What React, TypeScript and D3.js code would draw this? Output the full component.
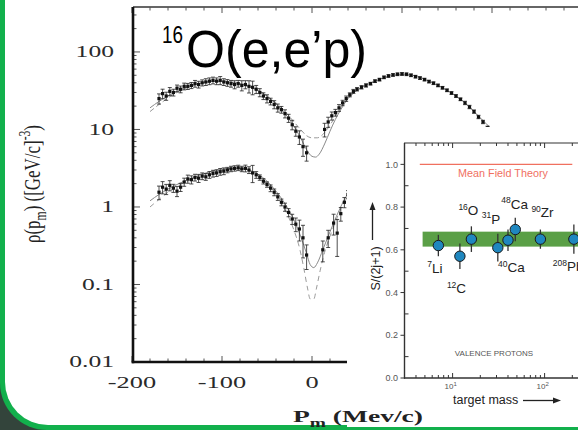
import React from "react";
import * as d3 from "d3";

// ---------------- main panel: 16O(e,e'p) momentum distributions ----------------
// upper distribution: missing momentum (MeV/c), rho, relative error
const upperPm = [-170, -166, -162, -158, -154, -150, -146, -142, -138, -134, -130, -126, -122, -118, -114, -110, -106, -102, -98, -94, -90, -86, -82, -78, -74, -70, -66, -62, -58, -54, -50, -46, -42, -38, -34, -30, -26, -22, -18, -14, -10, -6,
  14, 18, 22, 26, 30, 34, 38, 42, 46, 50, 55, 60, 65, 70, 75, 80, 85, 90, 95, 100, 105, 110, 115, 120, 125, 130, 135, 140, 145, 150, 155, 160, 165, 170, 175, 180, 185, 190, 195];
const upperRho = [25, 29, 27, 31, 30, 34, 33, 36, 36, 37, 39, 38, 40, 41, 42, 43, 42, 43, 41, 40, 39, 38, 39, 37, 38, 36, 35, 33, 30, 27, 25, 23, 21, 19, 18, 16, 14, 11.5, 9.5, 8, 6, 5,
  10, 12.5, 15, 16.5, 19, 22, 25, 28, 31, 33, 35, 37, 39, 42, 44, 47, 49, 50.5, 51.5, 52, 51.5, 50, 48, 46, 44, 41.5, 39.5, 37, 34.5, 32, 29.5, 27, 24.5, 22, 19.5, 17, 14.5, 12.5, 10.5];
const upperErr = [0.15, 0.14, 0.12, 0.12, 0.1, 0.1, 0.1, 0.1, 0.09, 0.09, 0.1, 0.1, 0.09, 0.1, 0.1, 0.1, 0.1, 0.12, 0.1, 0.1, 0.1, 0.12, 0.1, 0.15, 0.12, 0.18, 0.2, 0.12, 0.12, 0.1, 0.12, 0.1, 0.12, 0.12, 0.1, 0.12, 0.12, 0.14, 0.14, 0.2, 0.25, 0.22,
  0.2, 0.15, 0.12, 0.1, 0.1, 0.08, 0.08, 0.06, 0.06, 0.05, 0.05, 0.05, 0.04, 0.04, 0.04, 0.04, 0.04, 0.04, 0.04, 0.04, 0.04, 0.04, 0.04, 0.04, 0.04, 0.04, 0.04, 0.04, 0.04, 0.04, 0.04, 0.04, 0.04, 0.05, 0.05, 0.05, 0.05, 0.05, 0.05];

// lower distribution
const lowerPm = [-170, -166, -162, -158, -154, -150, -146, -142, -138, -134, -130, -126, -122, -118, -114, -110, -106, -102, -98, -94, -90, -86, -82, -78, -74, -70, -66, -62, -58, -54, -50, -46, -42, -38, -34, -30, -26, -22, -18, -14, -10, -6,
  12, 18, 24, 28, 32, 36, 40];
const lowerRho = [1.55, 1.8, 1.7, 1.9, 1.75, 1.6, 1.8, 2.1, 2.3, 2.25, 2.4, 2.35, 2.5, 2.45, 2.6, 2.7, 2.75, 2.85, 2.9, 3.0, 3.1, 3.15, 3.2, 3.1, 3.15, 3.0, 2.75, 2.6, 2.4, 2.15, 1.95, 1.75, 1.55, 1.35, 1.15, 1.0, 0.85, 0.7, 0.6, 0.52, 0.4, 0.24,
  0.28, 0.4, 0.62, 0.46, 0.82, 1.15, 1.45];
const lowerErr = [0.2, 0.18, 0.15, 0.15, 0.12, 0.15, 0.12, 0.12, 0.12, 0.12, 0.1, 0.12, 0.1, 0.1, 0.1, 0.1, 0.1, 0.1, 0.1, 0.08, 0.08, 0.08, 0.08, 0.08, 0.1, 0.1, 0.25, 0.1, 0.08, 0.08, 0.08, 0.1, 0.1, 0.1, 0.1, 0.12, 0.12, 0.15, 0.2, 0.3, 0.45, 0.35,
  0.3, 0.25, 0.3, 0.5, 0.2, 0.15, 0.12];

// theory curves
const upperSolidPm = [-180, -170, -160, -150, -140, -130, -120, -110, -100, -90, -80, -70, -60, -50, -40, -30, -20, -12, -6, 0, 4, 8, 14, 20, 26, 32, 40, 50, 60, 70, 80, 90, 100, 110, 120, 130, 140, 150, 160, 170, 180, 190, 200];
const upperSolidRho = [19, 23, 27, 31, 35, 38, 40.5, 42, 42, 41, 39, 36, 32, 27, 21.5, 16, 11, 7.5, 5.5, 4.5, 4.4, 4.8, 6.5, 9.5, 13.5, 18, 25, 32, 37.5, 42, 46.5, 50, 51.5, 50.5, 47, 42, 37, 32, 27, 22, 17, 13, 10];
const upperDashPm = [-180, -170, -160, -150, -140, -130, -120, -110, -100, -90, -80, -70, -60, -50, -40, -30, -20, -12, -6, 0, 6, 12, 18, 24, 30, 40, 50, 60, 70, 80, 90, 100, 110, 120, 130, 140, 150, 160, 170, 180, 190, 200];
const upperDashRho = [17, 21, 25.5, 30, 34, 37.5, 40, 41.5, 41.5, 40.5, 38.5, 35.5, 31.5, 27, 22, 17, 12.5, 9.8, 8.3, 7.8, 7.8, 8.6, 10.5, 13.5, 17.5, 25, 32, 37.5, 42, 46.5, 50, 51.5, 50.5, 47, 42, 37, 32, 27, 22, 17, 13, 10];
const lowerSolidPm = [-180, -170, -160, -150, -140, -130, -120, -110, -100, -90, -80, -70, -60, -50, -40, -30, -20, -12, -6, -2, 2, 6, 12, 18, 24, 30, 36, 42, 50];
const lowerSolidRho = [1.2, 1.45, 1.7, 1.95, 2.2, 2.45, 2.7, 2.9, 3.05, 3.15, 3.15, 3.0, 2.65, 2.15, 1.6, 1.1, 0.68, 0.4, 0.25, 0.18, 0.165, 0.19, 0.28, 0.42, 0.62, 0.9, 1.25, 1.6, 2.0];
const lowerDashPm = [-180, -170, -160, -150, -140, -130, -120, -110, -100, -90, -80, -70, -60, -50, -40, -30, -20, -14, -9, -5, -2, 2, 5, 9, 14, 20, 26, 32, 38, 46];
const lowerDashRho = [1.0, 1.25, 1.55, 1.85, 2.1, 2.4, 2.65, 2.85, 3.0, 3.1, 3.1, 2.9, 2.55, 2.0, 1.45, 0.92, 0.5, 0.3, 0.16, 0.09, 0.065, 0.065, 0.09, 0.15, 0.26, 0.42, 0.64, 0.95, 1.3, 1.75];

const mainYTicks = [0.01, 0.1, 1, 10, 100];
const mainYTickLabels = ["0.01", "0.1", "1", "10", "100"];
const mainXTicks = [-200, -100, 0];
const mainXTickLabels = ["-200", "-100", "0"];

// ---------------- inset: spectroscopic factors ----------------
const nucleusMass = [7, 12, 16, 31, 40, 48, 90, 208];
const nucleusA = ["7", "12", "16", "31", "40", "48", "90", "208"];
const nucleusSymbol = ["Li", "C", "O", "P", "Ca", "Ca", "Zr", "Pb"];
const spectroS = [0.62, 0.57, 0.65, 0.61, 0.645, 0.695, 0.65, 0.65];
const spectroErr = [0.05, 0.06, 0.06, 0.065, 0.05, 0.055, 0.045, 0.068];
const bandLow = 0.615;
const bandHigh = 0.685;
const meanFieldValue = 1.0;
const meanFieldMass = [4.4, 200];
const insetYTicks = [0, 0.2, 0.4, 0.6, 0.8, 1.0];
const insetYMinor = [0.1, 0.3, 0.5, 0.7, 0.9];

// label placement (pixels, relative to each point)
const labelDx = [-11, -13, -13, -16, -10, -14, -9, -21];
const labelDy = [27, 37, -24, -24, 32, -21, -22, 32];

const SERIF = "'Liberation Serif', 'Times New Roman', serif";
const SANS = "'Liberation Sans', Arial, sans-serif";

export default function App() {
  const xM = d3.scaleLinear().domain([-200, 300]).range([132, 582]);
  const yM = d3.scaleLog().domain([0.01, 380]).range([362, 7]);
  const xI = d3.scaleLog().domain([3, 300]).range([404.5, 588.5]);
  const yI = d3.scaleLinear().domain([0, 1.1]).range([378, 143]);

  const axL = 133, axB = 362, axT = 7, axR = 578;

  const pathOf = (pm: number[], rho: number[]) =>
    d3
      .line<number>()
      .x((d) => xM(d))
      .y((_, i) => yM(rho[i]))
      .curve(d3.curveMonotoneX)(pm) || "";

  const dataMarks = (pm: number[], rho: number[], err: number[], key: string) =>
    pm.map((p, i) => {
      const cx = xM(p);
      const r = rho[i];
      const y0 = yM(r * (1 - err[i]));
      const y1 = yM(r * (1 + err[i]));
      const cy = yM(r);
      return (
        <g key={key + i}>
          <line x1={cx} x2={cx} y1={y0} y2={y1} />
          <line x1={cx - 2} x2={cx + 2} y1={y0} y2={y0} />
          <line x1={cx - 2} x2={cx + 2} y1={y1} y2={y1} />
          <rect x={cx - 1.6} y={cy - 1.6} width={3.2} height={3.2} fill="#111" stroke="none" />
        </g>
      );
    });

  const xTicks = d3.range(-200, 301, 20);
  const yMinor: number[] = [];
  mainYTicks.forEach((d) => {
    for (let k = 2; k <= 9; k++) if (k * d <= 380) yMinor.push(k * d);
  });

  const insetXTicks: number[] = [];
  [1, 10, 100].forEach((d) => {
    for (let k = 1; k <= 9; k++) {
      const v = k * d;
      if (v >= 3 && v <= 300) insetXTicks.push(v);
    }
  });

  return (
    <svg
      width={578}
      height={430}
      viewBox="0 0 578 430"
      style={{ position: "absolute", left: 0, top: 0, display: "block" }}
    >
      <defs>
        <clipPath id="plotClip">
          <rect x={axL} y={axT} width={axR - axL} height={axB - axT} />
        </clipPath>
      </defs>
      {/* slide background / border */}
      <rect x={0} y={0} width={578} height={430} fill="#33443b" />
      <rect x={0} y={-100} width={800} height={530} rx={47} fill="#12b04c" />
      <rect x={5} y={-100} width={800} height={525} rx={43} fill="#ffffff" />

      {/* theory curves & data */}
      <g clipPath="url(#plotClip)">
        <path d={pathOf(upperSolidPm, upperSolidRho)} fill="none" stroke="#8a8a8a" strokeWidth={1} />
        <path d={pathOf(upperDashPm, upperDashRho)} fill="none" stroke="#9a9a9a" strokeWidth={1} strokeDasharray="5,3" />
        <path d={pathOf(lowerSolidPm, lowerSolidRho)} fill="none" stroke="#8a8a8a" strokeWidth={1} />
        <path d={pathOf(lowerDashPm, lowerDashRho)} fill="none" stroke="#9a9a9a" strokeWidth={1} strokeDasharray="5,4" />
        <g stroke="#222" strokeWidth={0.8}>
          {dataMarks(upperPm, upperRho, upperErr, "u")}
          {dataMarks(lowerPm, lowerRho, lowerErr, "l")}
        </g>
      </g>

      {/* main frame */}
      <line x1={axL} x2={axR} y1={axT} y2={axT} stroke="#333" strokeWidth={1.5} />
      <g stroke="#555" strokeWidth={1}>
        {xTicks.map((t) => {
          const len = t % 100 === 0 ? 6 : 3.5;
          return (
            <g key={"xt" + t}>
              <line x1={xM(t)} x2={xM(t)} y1={axB} y2={axB - len} />
              <line x1={xM(t)} x2={xM(t)} y1={axT} y2={axT + len} />
            </g>
          );
        })}
        {mainYTicks.map((t) => (
          <line key={"ym" + t} x1={axL} x2={axL + 7} y1={yM(t)} y2={yM(t)} />
        ))}
        {yMinor.map((t) => (
          <line key={"yn" + t} x1={axL} x2={axL + 3.5} y1={yM(t)} y2={yM(t)} />
        ))}
      </g>
      <line x1={axL} x2={axL} y1={axT} y2={axB + 1.3} stroke="#111" strokeWidth={2.6} />
      <line x1={axL - 1.3} x2={axR} y1={axB} y2={axB} stroke="#111" strokeWidth={2.6} />

      {/* main tick labels */}
      <g fontFamily={SERIF} fontSize={16} fill="#2a2a2a">
        {mainYTicks.map((t, i) => (
          <text key={"yl" + t} transform={`translate(114, ${yM(t) + 5.3}) scale(1.6, 1)`} textAnchor="end">
            {mainYTickLabels[i]}
          </text>
        ))}
        {mainXTicks.map((t, i) => (
          <text key={"xl" + t} transform={`translate(${xM(t)}, 388) scale(1.65, 1)`} textAnchor="middle">
            {mainXTickLabels[i]}
          </text>
        ))}
      </g>

      {/* main y label */}
      <text
        transform="translate(40, 243) rotate(-90) scale(1, 1.45)"
        fontFamily={SERIF}
        fontSize={16}
        fill="#222"
        textLength={118}
        lengthAdjust="spacingAndGlyphs"
      >
        ρ(p<tspan fontSize={11} dy={4}>m</tspan>
        <tspan dy={-4}>) ([GeV/c]</tspan>
        <tspan fontSize={11} dy={-7}>-3</tspan>
        <tspan dy={7}>)</tspan>
      </text>

      {/* title */}
      <text x={162} y={43} fontFamily={SANS} fontSize={24} fill="#000" textLength={21} lengthAdjust="spacingAndGlyphs">16</text>
      <text x={186} y={67} fontFamily={SANS} fontSize={52} fill="#000" textLength={181} lengthAdjust="spacingAndGlyphs">
        O(e,e’p)
      </text>

      {/* ---------------- inset ---------------- */}
      <rect x={347} y={127} width={240} height={300} fill="#ffffff" />
      <rect
        x={xI(4.72)}
        y={yI(bandHigh)}
        width={600 - xI(4.72)}
        height={yI(bandLow) - yI(bandHigh)}
        fill="#5a9f46"
      />
      <line
        x1={xI(meanFieldMass[0])}
        x2={xI(meanFieldMass[1])}
        y1={yI(meanFieldValue)}
        y2={yI(meanFieldValue)}
        stroke="#f0705f"
        strokeWidth={1.2}
      />
      <text x={503} y={177} textAnchor="middle" fontFamily={SANS} fontSize={10.8} fill="#f0705f">
        Mean Field Theory
      </text>

      {/* inset axes */}
      <g stroke="#333" strokeWidth={1}>
        {insetYTicks.map((t) => (
          <line key={"iy" + t} x1={400.5} x2={404.5} y1={yI(t)} y2={yI(t)} />
        ))}
        {insetYMinor.map((t) => (
          <line key={"iym" + t} x1={404.5} x2={408.5} y1={yI(t)} y2={yI(t)} />
        ))}
        {insetXTicks.map((t) => {
          const major = t === 10 || t === 100;
          const len = major ? 5 : 3;
          return (
            <g key={"ix" + t}>
              <line x1={xI(t)} x2={xI(t)} y1={378} y2={378 - len} />
              <line x1={xI(t)} x2={xI(t)} y1={143} y2={143 + len} />
            </g>
          );
        })}
      </g>
      <line x1={404.5} x2={404.5} y1={143} y2={378.7} stroke="#333" strokeWidth={1.4} />
      <line x1={404} x2={578} y1={378} y2={378} stroke="#333" strokeWidth={1.4} />
      <line x1={404} x2={578} y1={143} y2={143} stroke="#333" strokeWidth={1.2} />

      <g fontFamily={SANS} fontSize={9} fill="#555">
        {insetYTicks.map((t) => (
          <text key={"iyl" + t} x={398} y={yI(t) + 3.2} textAnchor="end">
            {d3.format(".1f")(t)}
          </text>
        ))}
      </g>
      <g fontFamily={SANS} fontSize={8} fill="#555">
        {[10, 100].map((t, i) => (
          <text key={"ixl" + t} x={xI(t) - 8} y={389}>
            10<tspan fontSize={6} dy={-3.5}>{i + 1}</tspan>
          </text>
        ))}
      </g>

      {/* spectroscopic factors */}
      {nucleusMass.map((m, i) => {
        const cx = xI(m);
        const cy = yI(spectroS[i]);
        return (
          <g key={"pt" + i}>
            <line
              x1={cx}
              x2={cx}
              y1={yI(spectroS[i] - spectroErr[i])}
              y2={yI(spectroS[i] + spectroErr[i])}
              stroke="#333"
              strokeWidth={1.3}
            />
            <circle cx={cx} cy={cy} r={5.2} fill="#1f87bf" stroke="#1a1a1a" strokeWidth={1} />
          </g>
        );
      })}
      <g fontFamily={SANS} fill="#222">
        {nucleusMass.map((m, i) => (
          <text key={"lab" + i} x={xI(m) + labelDx[i]} y={yI(spectroS[i]) + labelDy[i]} fontSize={13.5}>
            <tspan fontSize={8.5} dy={-5.5}>{nucleusA[i]}</tspan>
            <tspan dy={5.5}>{nucleusSymbol[i]}</tspan>
          </text>
        ))}
      </g>

      <text x={494} y={356} textAnchor="middle" fontFamily={SANS} fontSize={8} fill="#555">
        VALENCE PROTONS
      </text>

      {/* inset axis titles */}
      <text transform="translate(380, 268.5) rotate(-90)" textAnchor="middle" fontFamily={SANS} fontSize={12.5} fill="#222">
        S/(2j+1)
      </text>
      <line x1={372.5} x2={372.5} y1={240} y2={208} stroke="#222" strokeWidth={1.3} />
      <polygon points="372.5,202 369.5,210 375.5,210" fill="#222" />
      <text x={453} y={404} fontFamily={SANS} fontSize={12.5} fill="#222">
        target mass
      </text>
      <line x1={523} x2={554} y1={400.5} y2={400.5} stroke="#222" strokeWidth={1.3} />
      <polygon points="561,400.5 553,397.5 553,403.5" fill="#222" />

      {/* main x label */}
      <text
        x={293}
        y={422}
        fontFamily={SERIF}
        fontWeight="bold"
        fontSize={17}
        fill="#222"
        textLength={130}
        lengthAdjust="spacingAndGlyphs"
      >
        P<tspan fontSize={12} dy={5}>m</tspan>
        <tspan dy={-5}> (Mev/c)</tspan>
      </text>
    </svg>
  );
}
